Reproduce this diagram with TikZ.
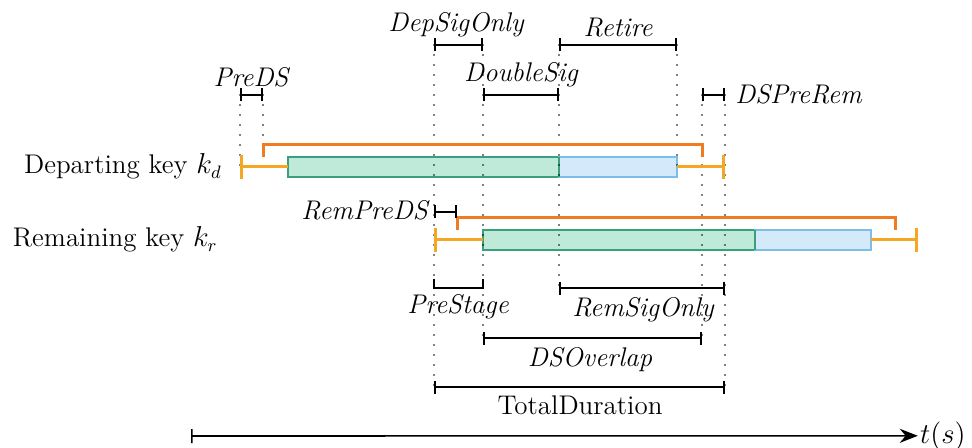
\documentclass[tikz,border=0pt]{standalone}
\usepackage{amsmath}
\usepackage{tikz}
\usetikzlibrary{arrows.meta, calc, positioning}

\definecolor{sigfill}{HTML}{BFE9D9}
\definecolor{sigrand}{HTML}{3A9F7C}
\definecolor{retfill}{HTML}{D4E9FA}
\definecolor{retrand}{HTML}{7BBFE8}
\definecolor{whiskfarbe}{HTML}{F5A623}
\definecolor{klammerfarbe}{HTML}{EF7B22}

\begin{document}
\begin{tikzpicture}[
    x = 0.5pt, y = -0.5pt,
    font = \fontsize{13.5}{16}\selectfont,
    txt/.style = {inner sep=1pt, anchor=base, font=\fontsize{13.5}{16}\selectfont\itshape},
    spann/.style = {black, line width=0.8pt, {Bar[width=6.5pt]}-{Bar[width=6.5pt]}},
    haken/.style = {black, line width=0.8pt},
    prik/.style = {black, line width=0.8pt, dash pattern=on 0.01pt off 4.99pt, line cap=round},
    whisk/.style = {whiskfarbe, line width=1.5pt},
    klammer/.style = {klammerfarbe, line width=1.5pt},
    sig/.style = {draw=sigrand, fill=sigfill, line width=1pt},
    ret/.style = {draw=retrand, fill=retfill, line width=1pt},
    pil/.style = {black, line width=0.8pt, {Bar[width=7pt]}-{Stealth[length=9pt, width=7pt]}}
    ]

  \useasboundingbox (0,0) rectangle (972,448);

  % time marks
  \coordinate (t1) at (240,0);
  \coordinate (t2) at (263,0);
  \coordinate (t3) at (288,0);
  \coordinate (t4) at (434,0);
  \coordinate (t5) at (483,0);
  \coordinate (t6) at (559,0);
  \coordinate (t7) at (677,0);
  \coordinate (t8) at (702,0);
  \coordinate (t9) at (725,0);
  \coordinate (u1) at (457,0);
  \coordinate (u2) at (755,0);
  \coordinate (u3) at (871,0);
  \coordinate (u4) at (895,0);
  \coordinate (u5) at (918,0);

  % rows
  \coordinate (rA) at (0,45);
  \coordinate (rB) at (0,95);
  \coordinate (rC) at (0,145);
  \coordinate (rD) at (0,167);
  \coordinate (rE) at (0,212);
  \coordinate (rF) at (0,218);
  \coordinate (rG) at (0,240);
  \coordinate (rH) at (0,288);
  \coordinate (rI) at (0,338);
  \coordinate (rJ) at (0,387);
  \coordinate (rK) at (0,436);

  % key labels
  \node[anchor=base east, inner sep=1pt] (dep) at (224,174) {Departing key $k_d$};
  \node[anchor=base east, inner sep=1pt] (rem) at (220,247) {Remaining key $k_r$};

  % bars
  \draw[sig] ($(t3 |- rD)+(0,-10)$) rectangle ($(t6 |- rD)+(0,10)$);
  \draw[ret] ($(t6 |- rD)+(0,-10)$) rectangle ($(t7 |- rD)+(0,10)$);
  \draw[sig] ($(t6 |- rD)+(0,-10)$) -- ($(t6 |- rD)+(0,10)$);
  \draw[sig] ($(t5 |- rG)+(0,-10)$) rectangle ($(u2 |- rG)+(0,10)$);
  \draw[ret] ($(u2 |- rG)+(0,-10)$) rectangle ($(u3 |- rG)+(0,10)$);
  \draw[sig] ($(u2 |- rG)+(0,-10)$) -- ($(u2 |- rG)+(0,10)$);

  % dotted guides
  \draw[prik] (t1 |- rB) -- (t1 |- rD);
  \draw[prik] (t2 |- rB) -- (t2 |- rC);
  \draw[prik] (t4 |- rA) -- (t4 |- rJ);
  \draw[prik] (t5 |- rA) -- (t5 |- rI);
  \draw[prik] (t6 |- rA) -- (t6 |- rH);
  \draw[prik] (t7 |- rA) -- (t7 |- rD);
  \draw[prik] (t8 |- rB) -- (t8 |- rI);
  \draw[prik] (t9 |- rB) -- (t9 |- rJ);

  % whiskers and brackets
  \draw[whisk, {Bar[width=12pt]}-] (t1 |- rD) -- (t3 |- rD);
  \draw[whisk, -{Bar[width=12pt]}] (t7 |- rD) -- (t9 |- rD);
  \draw[whisk, {Bar[width=12pt]}-] (t4 |- rG) -- (t5 |- rG);
  \draw[whisk, -{Bar[width=12pt]}] (u3 |- rG) -- (u5 |- rG);
  \draw[klammer] ($(t2 |- rD)+(0,-10)$) -- (t2 |- rC) -- (t8 |- rC) -- ($(t8 |- rD)+(0,-10)$);
  \draw[klammer] ($(u1 |- rG)+(0,-10)$) -- (u1 |- rF) -- (u4 |- rF) -- ($(u4 |- rG)+(0,-10)$);

  % spans
  \draw[spann] (t4 |- rA) -- (t5 |- rA);
  \draw[spann] (t6 |- rA) -- (t7 |- rA);
  \draw[spann] (t1 |- rB) -- (t2 |- rB);
  \draw[spann] (t5 |- rB) -- (t6 |- rB);
  \draw[spann] (t8 |- rB) -- (t9 |- rB);
  \draw[spann] (t4 |- rE) -- (u1 |- rE);
  \draw[haken] ($(t4 |- rH)+(0,-9)$) -- (t4 |- rH) -- (t5 |- rH) -- ($(t5 |- rH)+(0,-9)$);
  \draw[spann] (t6 |- rH) -- (t9 |- rH);
  \draw[spann] (t5 |- rI) -- (t8 |- rI);
  \draw[spann] (t4 |- rJ) -- (t9 |- rJ);

  % span labels
  \node[txt] (lDepSig) at (456,32) {DepSigOnly};
  \node[txt] (lRetire) at (618,37) {Retire};
  \node[txt] (lPreDS) at (251,87) {PreDS};
  \node[txt] (lDouble) at (521,82) {DoubleSig};
  \node[txt, anchor=base west] (lDSPre) at (733,104) {DSPreRem};
  \node[txt, anchor=base east] (lRemPre) at (430,220) {RemPreDS};
  \node[txt] (lPreSt) at (458,314) {PreStage};
  \node[txt] (lRemSig) at (643,316) {RemSigOnly};
  \node[txt] (lOverl) at (590,366) {DSOverlap};
  \node[txt, font=\fontsize{13.5}{16}\selectfont] (lTotal) at (580,414) {TotalDuration};

  % time axis
  \coordinate (ax0) at (191,436);
  \node[anchor=base east, inner sep=1pt] (tax) at (968,443) {$t(s)$};
  \draw[pil] (ax0) -- (tax.west);

\end{tikzpicture}
\end{document}
